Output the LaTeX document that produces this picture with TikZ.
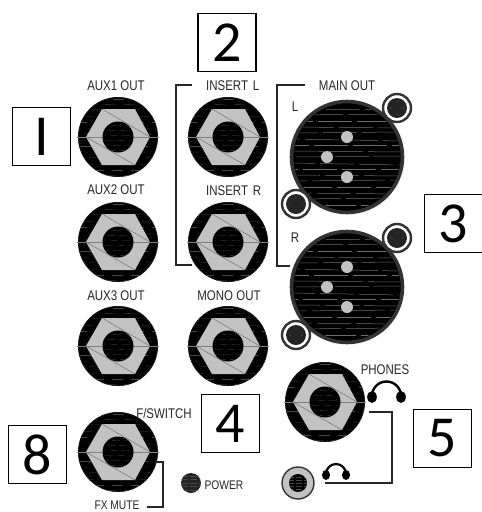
\documentclass[tikz,border=0pt]{standalone}
\usepackage{fontspec}
\newfontfamily\condfont[FakeStretch=0.82]{Liberation Sans}
\newfontfamily\numfont{Carlito}
\definecolor{hexgray}{HTML}{C2C2C2}
\definecolor{rimdark}{HTML}{333333}
\tikzset{
  x=1pt,y=-1pt,
  lab/.style={font=\condfont\fontsize{14}{14}\selectfont,inner sep=0pt,text=black!85},
  smalllab/.style={font=\condfont\fontsize{12.5}{12.5}\selectfont,inner sep=0pt,text=black!85},
  numbox/.style={draw=black,line width=1.5pt,fill=white,minimum size=58pt,inner sep=0pt,font=\numfont\fontsize{58}{58}\selectfont},
  conn/.style={draw=black!85,line width=1.1pt},
  hatch/.style={draw=gray!55!black,line width=0.3pt},
  pics/jack/.style={code={
    \fill[black] (0,0) circle (40pt);
    \begin{scope}
      \clip (0,0) circle (40pt);
      \foreach \yy/\d/\p in {-38/0/3,-33/1/11,-27/-1/6,-21/1/15,-15/0/2,-9/1/9,-3/-1/13,3/1/5,9/0/17,15/1/1,21/-1/8,27/1/14,33/0/4,38/1/10}
        \draw[hatch,dash pattern=on 11pt off 8pt,dash phase=\p pt] (-40,\yy) -- (40,\yy+\d);
    \end{scope}
    \draw[gray!60!black,line width=0.6pt,densely dotted] (0,0) circle (39.6pt);
    \fill[hexgray] (-32,0) -- (-16,-28) -- (17,-28) -- (32,0) -- (17,28) -- (-16,28) -- cycle;
    \draw[gray,line width=0.4pt] (-41,0) -- (41,0);
    \draw[gray!80!black,line width=0.4pt] (-16,-28) -- (32,0);
    \draw[gray!80!black,line width=0.4pt] (-32,0) -- (17,28);
    \fill[black] (0,0) circle (15.5pt);
    \begin{scope}
      \clip (0,0) circle (15.5pt);
      \foreach \yy/\p in {-12/2,-7/7,-2/4,3/9,8/1,13/6}
        \draw[hatch,dash pattern=on 8pt off 4pt,dash phase=\p pt] (-16,\yy) -- (16,\yy+1);
    \end{scope}
  }},
  pics/xlr/.style={code={
    \fill[black] (0,0) circle (55pt);
    \begin{scope}
      \clip (0,0) circle (53pt);
      \foreach \yy/\d/\p in {-48/1/5,-42/-1/22,-36/0/13,-30/1/31,-24/-1/8,-18/2/26,-12/0/17,-6/1/2,0/-1/35,6/2/11,12/0/28,18/1/6,24/-1/19,30/0/33,36/1/14,42/-1/24,48/0/9}
        \draw[draw=gray!85!black,line width=0.5pt,dash pattern=on 34pt off 5pt,dash phase=\p pt] (-55,\yy) -- (55,\yy+\d);
    \end{scope}
    \draw[rimdark,line width=3.6pt] (0,0) circle (55.5pt);
    \fill[hexgray] (0,-20) circle (6pt) (-20,0) circle (6pt) (0,20) circle (6pt);
  }},
  pics/minixlr/.style={code={
    \draw[rimdark,line width=2.4pt,fill=white] (0,0) circle (14pt);
    \fill[rimdark!70!black] (0,0) circle (10pt);
    \fill[gray!45!black] (0,-6) circle (1pt) (-6,0) circle (1pt) (6,0) circle (1pt) (0,6) circle (1pt);
  }},
  pics/phones/.style n args={3}{code={
    \draw[black,line width=#3] (-#1,0) arc[start angle=180,end angle=360,radius=#1];
    \fill[black] (-#1,1) ellipse[x radius=#2,y radius=#2*1.25];
    \fill[black] (#1,1) ellipse[x radius=#2,y radius=#2*1.25];
  }}
}
\begin{document}
\begin{tikzpicture}
\useasboundingbox (0,0) rectangle (482,512);
% jacks
\pic at (118,137) {jack};
\pic at (118,242) {jack};
\pic at (118,346) {jack};
\pic at (228,137) {jack};
\pic at (228,242) {jack};
\pic at (228,346) {jack};
\pic at (118,452) {jack};
\pic at (325,402) {jack};
% xlr
\pic at (347,157) {xlr};
\pic at (347,287) {xlr};
\pic at (397,108) {minixlr};
\pic at (296,204) {minixlr};
\pic at (397,238) {minixlr};
\pic at (296,335) {minixlr};
% boxes
\node[numbox] (b1) at (41.5,136.5) {I};
\node[numbox] (b2) at (227,42.5) {2};
\node[numbox] (b3) at (453.5,223.5) {3};
\node[numbox] (b4) at (230.5,423.5) {4};
\node[numbox] (b5) at (442.5,438.5) {5};
\node[numbox] (b8) at (37.5,454.5) {8};
% labels
\node[lab] (l1) at (116,86) {AUX1 OUT};
\node[lab] (l2) at (116,190) {AUX2 OUT};
\node[lab] (l3) at (116,296) {AUX3 OUT};
\node[lab,anchor=west] (l4) at (206,86) {INSERT\,\,L};
\node[lab,anchor=west] (l5) at (206,191) {INSERT\,\,R};
\node[lab] (l6) at (229,296) {MONO OUT};
\node[lab] (l7) at (347,86) {MAIN OUT};
\node[lab] (l8) at (295,107) {L};
\node[lab] (l9) at (295,238) {R};
\node[lab] (l10) at (385,370) {PHONES};
\node[lab] (l11) at (164,413) {F/SWITCH};
\node[smalllab] (l12) at (117,505) {FX MUTE};
\node[smalllab] (l13) at (224,485) {POWER};
% power led
\fill[black!85] (191,483) circle (10pt);
\begin{scope}
  \clip (191,483) circle (10pt);
  \foreach \yy in {-7,-3.5,0,3.5,7}
    \draw[hatch,dash pattern=on 7pt off 2pt] (181,483+\yy) -- (201,483+\yy);
\end{scope}
% small phone jack
\draw[rimdark,line width=1.4pt,fill=hexgray] (298,483) circle (16pt);
\fill[black] (298,483) circle (9pt);
\begin{scope}
  \clip (298,483) circle (9pt);
  \foreach \yy in {-6,-3,0,3,6}
    \draw[hatch,dash pattern=on 6pt off 2pt] (288,483+\yy) -- (308,483+\yy);
\end{scope}
% headphones
\pic at (386.5,396) {phones={14.5}{4.8}{2.4pt}};
\pic at (336,474) {phones={10}{4}{2.2pt}};
% connectors
\coordinate (c1a) at (192,85); \coordinate (c1b) at (176,85);
\coordinate (c1c) at (176,265); \coordinate (c1d) at (192,265);
\draw[conn] (c1a) -- (c1b) -- (c1c) -- (c1d);
\coordinate (c2a) at (305,85); \coordinate (c2b) at (277,85);
\coordinate (c2c) at (277,266); \coordinate (c2d) at (290,266);
\draw[conn] (c2a) -- (c2b) -- (c2c) -- (c2d);
\coordinate (c3a) at (155,462); \coordinate (c3b) at (163,462);
\coordinate (c3c) at (163,507); \coordinate (c3d) at (147,507);
\draw[conn] (c3a) -- (c3b) -- (c3c) -- (c3d);
\coordinate (c4a) at (369,412); \coordinate (c4b) at (392,412);
\coordinate (c4c) at (392,483); \coordinate (c4d) at (325,483);
\draw[conn] (c4a) -- (c4b) -- (c4c) -- (c4d);
\end{tikzpicture}
\end{document}
